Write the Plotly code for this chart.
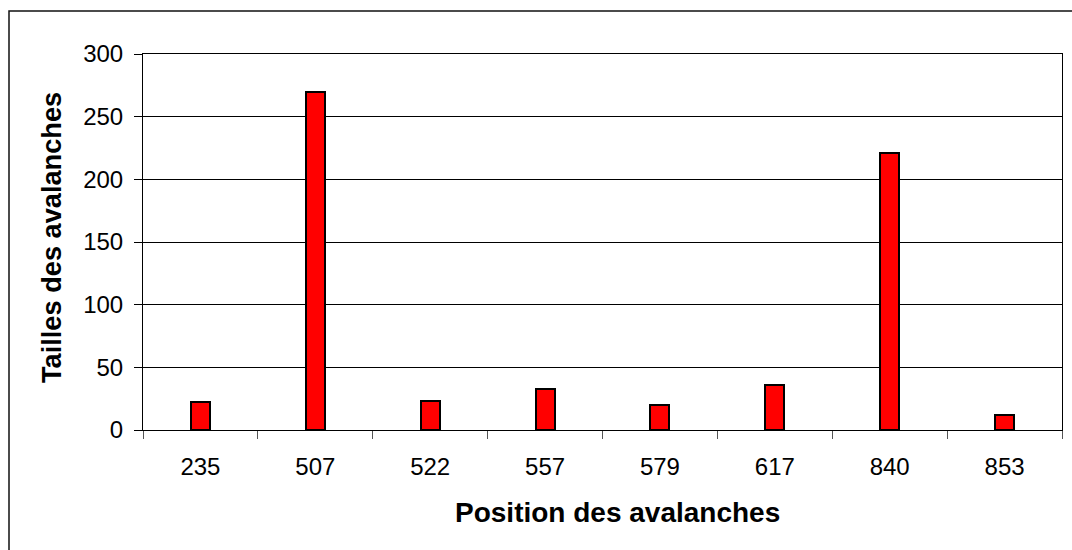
import plotly.graph_objects as go

# Avalanche positions (categories) and their sizes
positions = ["235", "507", "522", "557", "579", "617", "840", "853"]
sizes = [22, 270, 23, 33, 20, 36, 221, 12]

y_ticks = [0, 50, 100, 150, 200, 250, 300]

W, H = 1072, 550
L, R, T, B = 143, 10, 54, 120
pw, ph = W - L - R, H - T - B

fig = go.Figure()
fig.add_trace(go.Bar(
    x=positions,
    y=sizes,
    width=0.165,
    marker=dict(color="#FF0000", line=dict(color="black", width=2)),
))

font = "Liberation Sans, Arial, sans-serif"

fig.update_layout(
    width=W,
    height=H,
    margin=dict(l=L, r=R, t=T, b=B),
    paper_bgcolor="white",
    plot_bgcolor="white",
    showlegend=False,
    bargap=0,
    font=dict(family=font, size=24, color="black"),
    xaxis=dict(
        type="category",
        tickson="boundaries",
        ticks="outside",
        ticklen=8,
        tickcolor="#555555",
        showline=True,
        linecolor="black",
        linewidth=1,
        mirror=True,
        showgrid=False,
        tickfont=dict(size=24, family=font),
        ticklabelstandoff=15,
    ),
    yaxis=dict(
        range=[0, 300],
        tickvals=y_ticks,
        ticks="outside",
        ticklen=8,
        tickcolor="black",
        showline=True,
        linecolor="black",
        linewidth=1,
        mirror=True,
        showgrid=True,
        gridcolor="black",
        gridwidth=1,
        zeroline=False,
        tickfont=dict(size=24, family=font),
        ticklabelstandoff=6,
    ),
    annotations=[
        dict(
            text="<b>Position des avalanches</b>",
            xref="paper", yref="paper",
            x=(617 - L) / pw, y=(430 - 512) / ph,
            xanchor="center", yanchor="middle",
            showarrow=False,
            font=dict(size=28, family=font, color="black"),
        ),
        dict(
            text="<b>Tailles des avalanches</b>",
            xref="paper", yref="paper",
            x=(51 - L) / pw, y=(430 - 238) / ph,
            xanchor="center", yanchor="middle",
            textangle=-90,
            showarrow=False,
            font=dict(size=27.2, family=font, color="black"),
        ),
    ],
    shapes=[
        # chart frame
        dict(
            type="rect",
            xref="paper", yref="paper",
            x0=(9 - L) / pw, x1=(1085 - L) / pw,
            y0=(430 - 565) / ph, y1=(430 - 11) / ph,
            line=dict(color="#111111", width=1.5),
            fillcolor="rgba(0,0,0,0)",
            layer="above",
        ),
    ],
)

fig.write_html("out.html")
